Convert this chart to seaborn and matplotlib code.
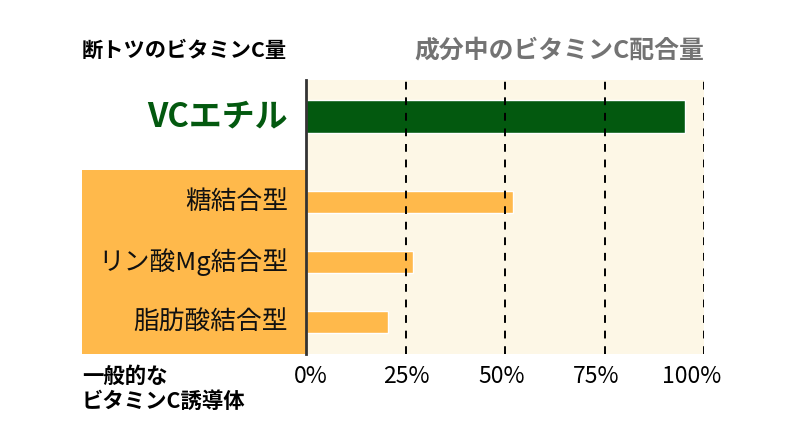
import pandas as pd
import matplotlib.pyplot as plt
import seaborn as sns
from matplotlib.patches import Rectangle

# --- data ---
top_name = 'VCエチル'
top_value = 95.2
other_names = ['糖結合型', 'リン酸Mg結合型', '脂肪酸結合型']
other_values = [51.9, 26.9, 20.5]
tick_values = [0, 25, 50, 75, 100]
tick_labels = ['0%', '25%', '50%', '75%', '100%']

# --- style ---
GREEN = '#03590f'
ORANGE = '#ffb94b'
CREAM = '#fdf7e6'
GRAY = '#737373'

sns.set_theme(style='white')
plt.rcParams['font.family'] = ['Noto Sans CJK JP', 'DejaVu Sans']

W, H = 800, 436
fig = plt.figure(figsize=(W / 100, H / 100), dpi=100)

# orange panel behind derivative labels
fig.patches.append(Rectangle((82 / W, 1 - 354 / H), (306 - 82) / W, (354 - 170) / H,
                             transform=fig.transFigure, facecolor=ORANGE,
                             edgecolor='none', zorder=-1))

# axes occupies x 306..704, y 80..354 (pixels)
ax = fig.add_axes([306 / W, 1 - 354 / H, 398 / W, 274 / H])
ax.set_facecolor(CREAM)

# vertical layout: top bar set apart from the three derivatives
top_pos = [0.0]
other_pos = [1.425 + i for i in range(len(other_names))]

df_top = pd.DataFrame({'name': [top_name], 'value': [top_value], 'pos': top_pos})
df_other = pd.DataFrame({'name': other_names, 'value': other_values, 'pos': other_pos})

sns.barplot(data=df_top, x='value', y='pos', orient='y', native_scale=True,
            color=GREEN, saturation=1, width=0.55, ax=ax, zorder=3)
sns.barplot(data=df_other, x='value', y='pos', orient='y', native_scale=True,
            color=ORANGE, saturation=1, width=0.37, ax=ax, zorder=3)

ax.set_xlim(0, 100)
ax.set_ylim(3.958, -0.608)

# dashed gridlines
for v in tick_values[1:]:
    ax.axvline(v, color='black', ls=(0, (4, 4)), lw=1.4, zorder=4)

for s in ['top', 'right', 'bottom']:
    ax.spines[s].set_visible(False)
ax.spines['left'].set_color('#333333')
ax.spines['left'].set_linewidth(2)
ax.spines['left'].set_zorder(6)

# labels sit on a slightly narrower spacing than the gridlines
label_pos = [v * 0.955 + 1.3 for v in tick_values]
ax.set_xticks(label_pos)
ax.set_xticklabels(tick_labels, fontsize=16.5, color='black')
ax.tick_params(axis='x', length=0, pad=8)
ax.set_yticks([])
ax.set_xlabel('')
ax.set_ylabel('')

# category labels
ax.text(-0.045, top_pos[0], top_name, transform=ax.get_yaxis_transform(),
        ha='right', va='center', fontsize=23.7, fontweight='bold', color=GREEN)
for name, p in zip(other_names, other_pos):
    ax.text(-0.045, p, name, transform=ax.get_yaxis_transform(),
            ha='right', va='center', fontsize=18.5, color='#111111')

# headers
fig.text(82 / W, 1 - 50 / H, '断トツのビタミンC量', ha='left', va='center',
         fontsize=15.3, fontweight='bold', color='black')
fig.text(704 / W, 1 - 50 / H, '成分中のビタミンC配合量', ha='right', va='center',
         fontsize=17.9, fontweight='bold', color=GRAY)
fig.text(82 / W, 1 - 389 / H, '一般的な\nビタミンC誘導体', ha='left', va='center',
         fontsize=15.4, fontweight='bold', color='black', linespacing=1.25)

fig.savefig('out.png', dpi=100)
